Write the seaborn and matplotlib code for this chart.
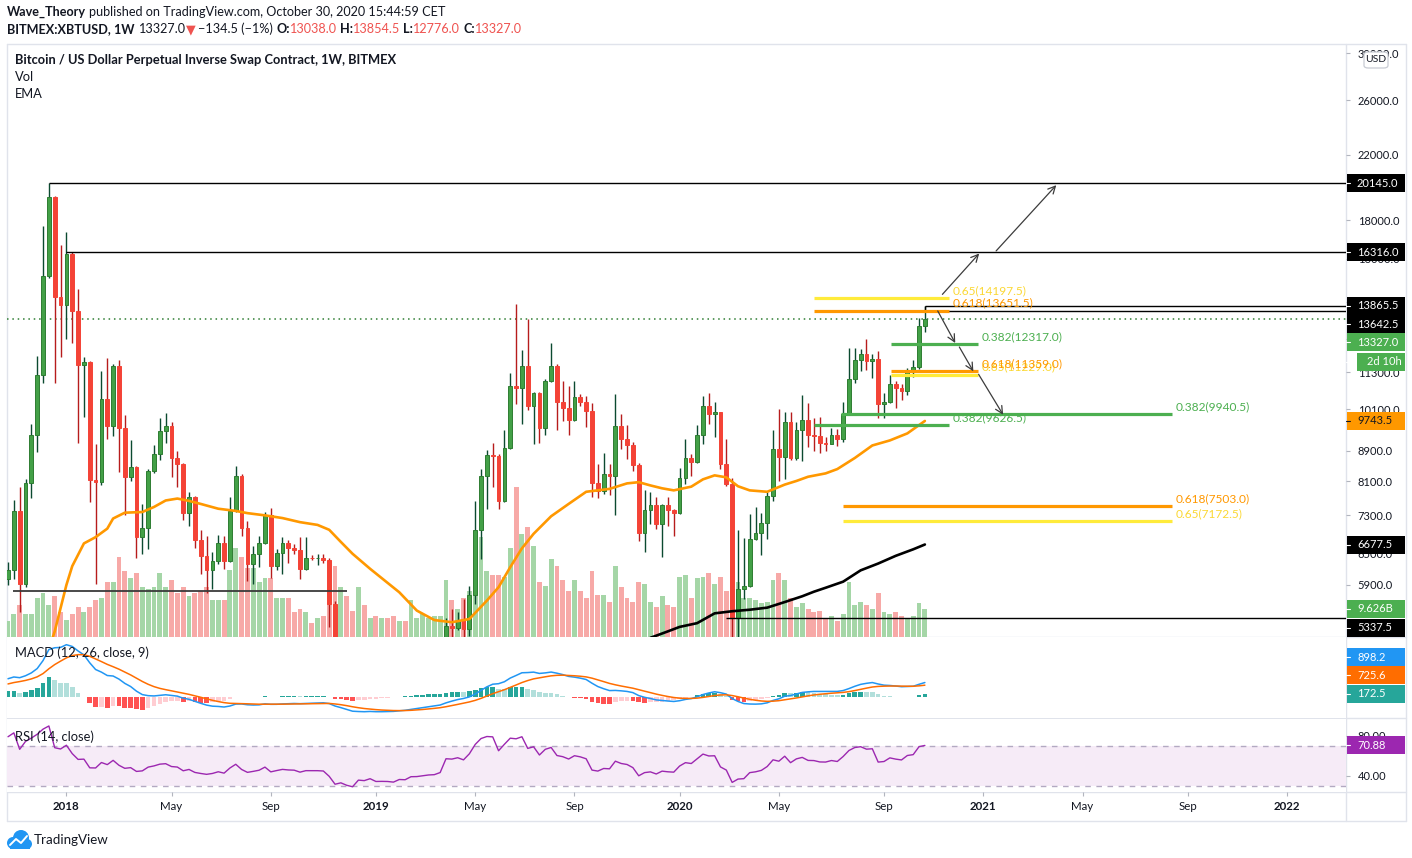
import numpy as np
import pandas as pd
import seaborn as sns
import matplotlib
matplotlib.use("Agg")
import matplotlib.pyplot as plt
from matplotlib import font_manager as fm
from matplotlib.patches import Rectangle, FancyBboxPatch, Ellipse
from matplotlib.lines import Line2D
from matplotlib.ticker import NullLocator

# ---------------- data (BITMEX:XBTUSD, 1W, from week of 23 Oct 2017) ----------------
first_week = "2017-10-23"
first_open = 6000.0
closes = [6180, 7390, 5910, 8070, 9340, 11230, 15170, 19340, 14240, 13870,
          16260, 13640, 11550, 11680, 8145, 8085, 10430, 9580, 11510, 9530,
          8200, 8470, 6830, 7030, 8370, 8810, 9440, 9600, 8700, 8540,
          7355, 7715, 6775, 6440, 6170, 6355, 6710, 6355, 7405, 8245,
          7030, 6290, 6490, 6710, 7315, 6260, 6500, 6710, 6600, 6560,
          6200, 6410, 6400, 6405, 6360, 5560, 4000, 4150, 3600, 3250,
          3950, 3850, 4050, 3550, 3560, 3540, 3440, 3650, 3620, 3850,
          3860, 3920, 3970, 3990, 4120, 5200, 5175, 5300, 5160, 5730,
          6985, 8225, 8770, 8745, 7625, 8978, 10840, 10775, 11515, 10198,
          10626, 9535, 10999, 11541, 10324, 10134, 9762, 10496, 10324, 10043,
          8057, 7855, 8292, 8232, 9590, 9208, 9043, 8523, 6913, 7410,
          7525, 7115, 7525, 7410, 7350, 8190, 8707, 8590, 9343, 10190,
          9963, 10000, 8530, 8025, 5340, 5830, 5890, 6790, 6920, 7137,
          7735, 8930, 8720, 9710, 8700, 9470, 9780, 9323, 9300, 9106,
          9089, 9323, 9208, 9963, 11090, 11750, 11940, 11690, 11770, 10250,
          10340, 10922, 10775, 10680, 11360, 11500, 13038, 13327]
highs = [6330, 7640, 7970, 8170, 9640, 11880, 17680, 20145, 19400, 16700,
         17350, 16316, 14580, 11850, 11700, 9080, 11340, 11800, 11590, 11730,
         9910, 9200, 8500, 7560, 8400, 9050, 9820, 9980, 9700, 8900,
         8560, 7830, 7750, 6970, 6860, 6530, 6880, 6860, 7730, 8500,
         8290, 7185, 6640, 6850, 7370, 7470, 6580, 6830, 6760, 6680,
         6830, 6830, 6460, 6490, 6490, 6400, 5620, 4400, 4300, 3650,
         4300, 4250, 4100, 4100, 3750, 3650, 3560, 3700, 3700, 4200,
         3900, 3950, 4000, 4080, 4150, 5340, 5486, 5440, 5656, 5890,
         7618, 8420, 8903, 9117, 8800, 9468, 11296, 13952, 12094, 13290,
         10650, 10650, 11090, 12367, 11587, 11010, 10830, 10999, 10593, 10516,
         10300, 8549, 8842, 8549, 10593, 9963, 9633, 9134, 8560, 7900,
         7838, 7720, 7560, 7720, 7450, 8450, 9210, 8815, 9620, 10520,
         10600, 10340, 10010, 9230, 8180, 6970, 6820, 7320, 7500, 7350,
         7840, 9480, 10120, 10010, 10010, 9710, 10550, 10300, 9830, 9850,
         9280, 9545, 9520, 10310, 12190, 12190, 12130, 12500, 11970, 12070,
         10610, 11210, 11010, 10920, 11470, 11730, 13340, 13854.5]
lows = [5900, 6000, 5440, 5870, 7700, 8850, 10930, 15100, 10930, 11850,
        12510, 12360, 9120, 9870, 7600, 5910, 8000, 9220, 9300, 8330,
        7300, 8120, 6400, 6480, 6590, 8300, 8635, 9100, 8220, 7950,
        7200, 7070, 6610, 6100, 5760, 5820, 6300, 6200, 6330, 7380,
        6860, 5970, 5910, 6230, 6690, 6030, 6170, 6100, 6320, 6480,
        6015, 6180, 6370, 6280, 6310, 5190, 3600, 3500, 3250, 3150,
        3220, 3550, 3700, 3500, 3550, 3450, 3380, 3360, 3550, 3600,
        3700, 3700, 3800, 3900, 3900, 4090, 4950, 5140, 4950, 5055,
        5570, 6393, 7450, 7960, 7450, 7600, 8950, 10273, 9663, 10064,
        9070, 9106, 9323, 10975, 9468, 9740, 9323, 9730, 10200, 9565,
        7730, 7706, 7782, 7760, 7298, 8950, 8680, 8350, 6745, 6523,
        7115, 7007, 6425, 7072, 6850, 7330, 8042, 8225, 8565, 9070,
        9640, 9270, 8400, 7990, 3600, 4450, 5650, 5860, 6760, 6470,
        6800, 7625, 8120, 8170, 8640, 8640, 8620, 9000, 8890, 8835,
        8890, 9070, 9015, 9134, 9940, 10940, 11360, 11380, 11120, 9840,
        9840, 10290, 10150, 10380, 10550, 11150, 11430, 12776]
volumes_b = [5.5, 7.6, 10.7, 7.9, 7.9, 13.1, 15.1, 10.7, 13.8, 8.3,
             5.8, 7.6, 10.0, 8.3, 10.0, 12.4, 13.4, 18.6, 18.6, 27.2,
             22.7, 20.0, 22.0, 16.9, 16.5, 16.9, 22.0, 17.2, 19.3, 15.1,
             17.2, 13.8, 14.8, 15.8, 17.2, 12.7, 12.7, 12.4, 23.0, 30.3,
             27.2, 23.7, 23.4, 18.6, 20.0, 20.0, 13.1, 13.4, 13.1, 8.3,
             9.6, 8.3, 4.8, 6.2, 6.9, 11.4, 24.4, 17.2, 13.8, 8.9,
             17.2, 10.7, 6.5, 7.2, 6.2, 6.2, 6.9, 5.5, 5.5, 12.4,
             6.2, 7.6, 6.2, 6.9, 6.9, 19.6, 12.4, 9.3, 13.4, 15.5,
             27.5, 34.4, 22.4, 21.0, 21.0, 20.6, 30.6, 51.3, 35.4, 37.8,
             31.0, 18.6, 17.5, 26.8, 24.4, 19.3, 15.5, 19.6, 15.5, 13.4,
             22.4, 14.4, 14.4, 11.7, 24.4, 17.2, 13.1, 11.7, 18.6, 17.9,
             12.0, 10.0, 13.8, 11.0, 10.3, 20.3, 21.0, 13.4, 20.0, 20.3,
             21.7, 18.2, 20.6, 15.8, 25.8, 18.6, 13.4, 13.4, 12.4, 11.4,
             11.7, 19.3, 21.7, 19.3, 13.4, 10.3, 11.4, 9.6, 8.6, 8.9,
             6.5, 6.9, 5.5, 7.9, 18.6, 10.7, 12.0, 11.0, 9.6, 14.8,
             8.6, 7.9, 8.3, 6.9, 6.2, 6.9, 11.4, 9.626]

# EMA lines, read at candle positions
ema_orange_idx = [7, 8, 10, 11, 13, 15, 17, 18, 20, 23, 25, 27, 29, 31, 33, 36, 39, 41, 44,
                  47, 50, 53, 55, 57, 59, 62, 67, 70, 73, 76, 79, 82, 84, 86, 88, 90, 93,
                  96, 99, 103, 106, 108, 110, 112, 114, 117, 119, 121, 123, 125, 127, 130,
                  133, 135, 137, 140, 142, 145, 148, 151, 154, 157]
ema_orange_val = [4850, 5120, 5900, 6250, 6700, 6830, 7010, 7230, 7360, 7375, 7490, 7640,
                  7685, 7630, 7560, 7450, 7400, 7350, 7300, 7240, 7150, 7090, 6985, 6730,
                  6491, 6200, 5770, 5456, 5300, 5265, 5317, 5625, 5860, 6230, 6600, 6900,
                  7280, 7560, 7846, 7916, 8050, 8080, 8000, 7930, 7880, 7970, 8150, 8250,
                  8200, 7980, 7880, 7846, 8020, 8110, 8215, 8300, 8410, 8700, 9040, 9180,
                  9380, 9743.5]
ema_black_idx = [110, 113, 115, 118, 121, 124, 127, 130, 133, 136, 138, 140, 143, 146,
                 149, 152, 155, 157]
ema_black_val = [5020, 5120, 5190, 5250, 5410, 5445, 5470, 5505, 5600, 5700, 5780, 5850,
                 5960, 6170, 6300, 6450, 6580, 6677.5]

# indicator state before the first visible week (from earlier history)
macd_seed_fast, macd_seed_slow, macd_seed_signal = 4700.0, 3600.0, 720.0
rsi_seed_gain, rsi_seed_loss = 330.0, 90.0
# last values printed on the indicator scales
macd_readout = [898.2, 725.6, 172.5]
rsi_readout = 70.88

# fibonacci drawings
fib_ratio = ["0.65", "0.618", "0.382", "0.65", "0.618", "0.382", "0.382", "0.618", "0.65"]
fib_price = [14197.5, 13651.5, 12317.0, 11229.0, 11359.0, 9626.5, 9940.5, 7503.0, 7172.5]
fib_from = [138.0, 138.0, 151.2, 151.2, 151.2, 138.0, 142.6, 143.0, 143.0]
fib_to = [161.1, 161.1, 166.1, 166.1, 166.1, 161.1, 199.3, 199.3, 199.3]
fib_kind = ["y", "o", "g", "y", "o", "g", "g", "o", "y"]

# horizontal black levels
level_price = [20145.0, 16316.0, 13865.5, 13642.5, 5337.5, 5800.0]
level_from = [7.0, 10.0, 157.0, 157.0, 123.0, 0.9]
level_to = [None, None, None, None, None, 58.0]

# hand drawn arrows (week index, price)
arrow_i0 = [160.0, 169.2, 159.2, 162.9, 166.2]
arrow_p0 = [14350, 16390, 13640, 12216, 11237]
arrow_i1 = [166.3, 179.5, 162.2, 165.3, 170.4]
arrow_p1 = [16260, 20040, 12367, 11340, 9930]

# ---------------- style ----------------
sns.set_theme(style="white")
names = {f.name for f in fm.fontManager.ttflist}
FONT = "Liberation Sans Narrow" if "Liberation Sans Narrow" in names else "Lato"
NARROW = FONT == "Liberation Sans Narrow"
plt.rcParams["font.family"] = [FONT, "DejaVu Sans"]
FS = 9.2 if NARROW else 8.0
TXT = "#131722"
FRAME = "#e0e3eb"

W, H = 1412, 858
fig = plt.figure(figsize=(W / 100, H / 100), dpi=100)
fig.patch.set_facecolor("white")
renderer = fig.canvas.get_renderer()


def fx(x):
    return x / W


def fy(y):
    return 1 - y / H


PANE_L, PANE_R = 7, 1346
XLIM = ((PANE_L - 8) / 5.84, (PANE_R - 8) / 5.84)


def add_pane(top, bottom):
    a = fig.add_axes([fx(PANE_L), fy(bottom), (PANE_R - PANE_L) / W, (bottom - top) / H])
    for s in a.spines.values():
        s.set_visible(False)
    a.set_xlim(*XLIM)
    return a


n = len(closes)
idx = np.arange(n)
c = np.array(closes, float)
o = np.array([first_open] + closes[:-1], float)
hi = np.array(highs, float)
lo = np.array(lows, float)
up = c >= o

# ---------------- main pane ----------------
ax = add_pane(44, 636.5)
ax_vol = ax.twinx()
ax_vol.set_zorder(1)
ax.set_zorder(2)
ax.patch.set_visible(False)

ax_vol.bar(idx, volumes_b, width=0.84, color=np.where(up, "#a5d6a7", "#f7a9a7"), linewidth=0)
ax_vol.set_ylim(0, 592.5 * 0.344)
ax_vol.set_xlim(*XLIM)
ax_vol.set_axis_off()

ax.set_yscale("log")
ax.vlines(idx, lo, hi, colors=np.where(up, "#0b4a30", "#b71c1c"), linewidth=1.0, zorder=3)
ax.bar(idx, np.maximum(np.abs(c - o), 1e-6), bottom=np.minimum(o, c), width=0.64,
       color=np.where(up, "#43a047", "#f44336"),
       edgecolor=np.where(up, "#2e7d32", "#f44336"), linewidth=0.7, zorder=4)

sns.lineplot(x=ema_orange_idx, y=ema_orange_val, ax=ax, color="#ff9800", linewidth=1.9, zorder=5)
sns.lineplot(x=ema_black_idx, y=ema_black_val, ax=ax, color="#000000", linewidth=1.9, zorder=5)

for p, a0, a1 in zip(level_price, level_from, level_to):
    ax.hlines(p, a0, XLIM[1] + 1 if a1 is None else a1,
              color="#000000" if a1 is None else "#3a3a3a", linewidth=1.0 if a1 is None else 1.3, zorder=6)
ax.vlines(157, 13642.5, 13865.5, color="#000000", linewidth=1.0, zorder=6)
ax.axhline(c[-1], color="#2e7d32", linestyle=(0, (1, 2.5)), linewidth=1.1, zorder=2)

fib_line = {"y": "#ffeb3b", "o": "#ff9800", "g": "#4caf50"}
fib_text = {"y": "#fbd834", "o": "#ff9800", "g": "#4caf50"}
for r, p, a0, a1, k in zip(fib_ratio, fib_price, fib_from, fib_to, fib_kind):
    ax.hlines(p, a0, a1, color=fib_line[k], linewidth=2.3, zorder=6)
    ax.annotate(f"{r}({p:.1f})", xy=(a1, p), xytext=(4, 2), textcoords="offset pixels",
                color=fib_text[k], fontsize=FS + 0.6, va="bottom", ha="left", zorder=7)

for i0, p0, i1, p1 in zip(arrow_i0, arrow_p0, arrow_i1, arrow_p1):
    ax.annotate("", xy=(i1, p1), xytext=(i0, p0),
                arrowprops=dict(arrowstyle="->", color="#3c3c3c", lw=0.9,
                                shrinkA=0, shrinkB=0, mutation_scale=13), zorder=7)

ax.set_ylim(5040, 30860)
ax.set_xlim(*XLIM)
ax.yaxis.tick_right()
price_ticks = [30000, 26000, 22000, 18000, 16000, 14000, 12500, 11300, 10100, 8900, 8100, 7300, 6500, 5900]
ax.set_yticks(price_ticks)
ax.set_yticklabels([f"{t:.1f}" for t in price_ticks])
ax.yaxis.set_minor_locator(NullLocator())
ax.tick_params(axis="y", right=True, left=False, length=3, width=0.8, color="#b2b5be",
               pad=5.5, labelsize=FS, labelcolor=TXT)
ax.set_xticks([])
ax.set_xlabel("")
ax.set_ylabel("")

# ---------------- MACD ----------------
def ema(values, span, seed):
    a = 2.0 / (span + 1)
    out, e = [], seed
    for v in values:
        e = e + a * (v - e)
        out.append(e)
    return np.array(out)


macd = ema(c, 12, macd_seed_fast) - ema(c, 26, macd_seed_slow)
signal = ema(macd, 9, macd_seed_signal)
hist = macd - signal
prev = np.concatenate([[hist[0]], hist[:-1]])
hist_col = np.where(hist >= 0, np.where(hist >= prev, "#26a69a", "#b2dfdb"),
                    np.where(hist < prev, "#ff5252", "#ffcdd2"))

ax_m = add_pane(637, 718)
ax_m.bar(idx, hist, width=0.8, color=hist_col, linewidth=0)
sns.lineplot(x=idx, y=macd, ax=ax_m, color="#2196f3", linewidth=1.1)
sns.lineplot(x=idx, y=signal, ax=ax_m, color="#ff6d00", linewidth=1.1)
ax_m.set_ylim(-(718 - 696.5) * 64, (696.5 - 637) * 64)
ax_m.set_xlim(*XLIM)
ax_m.set_xticks([])
ax_m.set_yticks([])
ax_m.set_xlabel("")
ax_m.set_ylabel("")

# ---------------- RSI ----------------
g, l = rsi_seed_gain, rsi_seed_loss
rsi = []
prev_c = first_open
for v in c:
    ch = v - prev_c
    g = (13 * g + max(ch, 0)) / 14
    l = (13 * l + max(-ch, 0)) / 14
    rsi.append(100 - 100 / (1 + g / l))
    prev_c = v
rsi = np.array(rsi)

ax_r = add_pane(719, 792)
ax_r.axhspan(30, 70, color="#9c27b0", alpha=0.09, linewidth=0)
ax_r.axhline(70, color="#b3a9c2", linewidth=1.0, linestyle=(0, (4, 4)))
ax_r.axhline(30, color="#b3a9c2", linewidth=1.0, linestyle=(0, (4, 4)))
sns.lineplot(x=idx, y=rsi, ax=ax_r, color="#9c27b0", linewidth=1.0)
ax_r.set_ylim(24, 97)
ax_r.set_xlim(*XLIM)
ax_r.yaxis.tick_right()
ax_r.set_yticks([80, 40])
ax_r.set_yticklabels(["80.00", "40.00"])
ax_r.tick_params(axis="y", right=True, left=False, length=3, width=0.8, color="#b2b5be",
                 pad=5.5, labelsize=FS, labelcolor=TXT)
ax_r.set_xlabel("")
ax_r.set_ylabel("")

week_dates = pd.date_range(first_week, periods=int(XLIM[1]) + 1, freq="7D")
tick_idx, tick_lab = [], []
for yr in range(2018, 2023):
    for mo in (1, 5, 9):
        hits = np.where((week_dates.year == yr) & (week_dates.month == mo))[0]
        if len(hits):
            tick_idx.append(hits[0])
            tick_lab.append(str(yr) if mo == 1 else week_dates[hits[0]].strftime("%b"))
ax_r.set_xticks(tick_idx)
ax_r.set_xticklabels(tick_lab)
ax_r.tick_params(axis="x", bottom=True, length=3, width=0.8, color="#b2b5be", pad=3.5,
                 labelsize=FS + 0.3, labelcolor=TXT)
for t in ax_r.get_xticklabels():
    if t.get_text().isdigit():
        t.set_fontweight("bold")

# ---------------- frame ----------------
for y in (44, 636.5, 718, 792, 821):
    fig.add_artist(Line2D([fx(7), fx(1406)], [fy(y), fy(y)], color=FRAME, linewidth=1.0, zorder=0))
for x in (7, 1346, 1406):
    fig.add_artist(Line2D([fx(x), fx(x)], [fy(44), fy(821)], color=FRAME, linewidth=1.0, zorder=0))

# ---------------- price-scale boxes ----------------
def box(axis, value, text, face, color="white", shift=0.0, x0=1347, x1=1405):
    y_px = H - axis.transData.transform((0, value))[1] + shift
    fig.add_artist(Rectangle((fx(x0), fy(y_px + 9)), (x1 - x0) / W, 18 / H,
                             transform=fig.transFigure, facecolor=face, edgecolor="none", zorder=20))
    fig.add_artist(Line2D([fx(1346), fx(1350)], [fy(y_px), fy(y_px)], color=color, linewidth=0.8, zorder=21))
    fig.text(fx(x0 + 10), fy(y_px), text, color=color, fontsize=FS, va="center", ha="left", zorder=22)


box(ax, 20145.0, "20145.0", "#000000")
box(ax, 16316.0, "16316.0", "#000000")
box(ax, 13865.5, "13865.5", "#000000")
box(ax, 13642.5, "13642.5", "#000000", shift=13.5)
box(ax, c[-1], f"{c[-1]:.1f}", "#4caf50", shift=23.8)
box(ax, c[-1], "2d 10h", "#4caf50", shift=43.0, x0=1357)
box(ax, ema_orange_val[-1], f"{ema_orange_val[-1]:.1f}", "#ff9800", color=TXT)
box(ax, ema_black_val[-1], f"{ema_black_val[-1]:.1f}", "#000000")
box(ax_vol, volumes_b[-1], f"{volumes_b[-1]:.3f}B", "#4caf50")
box(ax, 5337.5, "5337.5", "#000000", shift=10.0)
box(ax_m, macd_readout[0], f"{macd_readout[0]:.1f}", "#2196f3", shift=-25.0)
box(ax_m, macd_readout[1], f"{macd_readout[1]:.1f}", "#ff6d00", shift=-10.0)
box(ax_m, macd_readout[2], f"{macd_readout[2]:.1f}", "#26a69a")
box(ax_r, rsi_readout, f"{rsi_readout:.2f}", "#9c27b0")

fig.add_artist(FancyBboxPatch((fx(1364), fy(68)), 24 / W, 16 / H, boxstyle="round,pad=0,rounding_size=0.003",
                              transform=fig.transFigure, facecolor="white", edgecolor="#c8cbd3",
                              linewidth=0.9, zorder=20))
fig.text(fx(1376), fy(60), "USD", fontsize=FS - 0.5, color=TXT, ha="center", va="center", zorder=21)

# ---------------- texts ----------------
def text_w(s, size, weight="normal"):
    t = fig.text(0, 0, s, fontsize=size, fontweight=weight)
    w = t.get_window_extent(renderer).width
    t.remove()
    return w


def runs(x, y, parts, size):
    sp = text_w("a a", size) - text_w("aa", size)
    for s, col, wt, gap in parts:
        fig.text(fx(x), fy(y), s, fontsize=size, color=col, fontweight=wt, va="center", ha="left")
        x += text_w(s, size, wt) + gap * sp
    return x


line1 = [("Wave_Theory", TXT, "bold", 1),
         ("published on TradingView.com, October 30, 2020 15:44:59 CET", TXT, "normal", 0)]
probe = text_w("Wave_Theory", 10, "bold") + text_w("published on TradingView.com, October 30, 2020 15:44:59 CET", 10)
hsize = 10 * 436 / probe
runs(7, 12, line1, hsize)
red = "#ef5350"
line2 = [("BITMEX:XBTUSD, 1W", TXT, "bold", 1.5), ("13327.0", TXT, "normal", 0),
         ("\u25bc", red, "normal", 0.6), ("\u2212134.5 (\u22121%)", TXT, "normal", 1),
         ("O:", TXT, "bold", 0), ("13038.0", red, "normal", 1),
         ("H:", TXT, "bold", 0), ("13854.5", red, "normal", 1),
         ("L:", TXT, "bold", 0), ("12776.0", red, "normal", 1),
         ("C:", TXT, "bold", 0), ("13327.0", red, "normal", 0)]
runs(7, 29, line2, hsize)

lsize = 10 * 383 / text_w("Bitcoin / US Dollar Perpetual Inverse Swap Contract, 1W, BITMEX", 10, "bold")
fig.text(fx(15), fy(60), "Bitcoin / US Dollar Perpetual Inverse Swap Contract, 1W, BITMEX",
         fontsize=lsize, fontweight="bold", color=TXT, va="center")
fig.text(fx(15), fy(77), "Vol", fontsize=lsize, color=TXT, va="center")
fig.text(fx(15), fy(94), "EMA", fontsize=lsize, color=TXT, va="center")
fig.text(fx(15), fy(653), "MACD (12, 26, close, 9)", fontsize=lsize, color=TXT, va="center", zorder=30)
fig.text(fx(15), fy(737), "RSI (14, close)", fontsize=lsize, color=TXT, va="center", zorder=30)

# footer logo + name
blue = "#2196f3"
for cx, cy, rx in ((13, 843, 6), (21, 838, 8), (27, 844, 5)):
    fig.add_artist(Ellipse((fx(cx), fy(cy)), 2 * rx / W, 2 * rx / H, transform=fig.transFigure,
                           facecolor=blue, edgecolor="none", zorder=5))
fig.add_artist(Rectangle((fx(10), fy(849)), 20 / W, 6 / H, transform=fig.transFigure,
                         facecolor=blue, edgecolor="none", zorder=5))
fig.add_artist(Line2D([fx(10), fx(16), fx(21), fx(27)], [fy(845), fy(839), fy(843), fy(836)],
                      color="white", linewidth=1.4, zorder=6))
fig.text(fx(34), fy(840), "TradingView", fontsize=hsize + 0.6, color=TXT, va="center")

fig.savefig("out.png", dpi=100, facecolor="white")
